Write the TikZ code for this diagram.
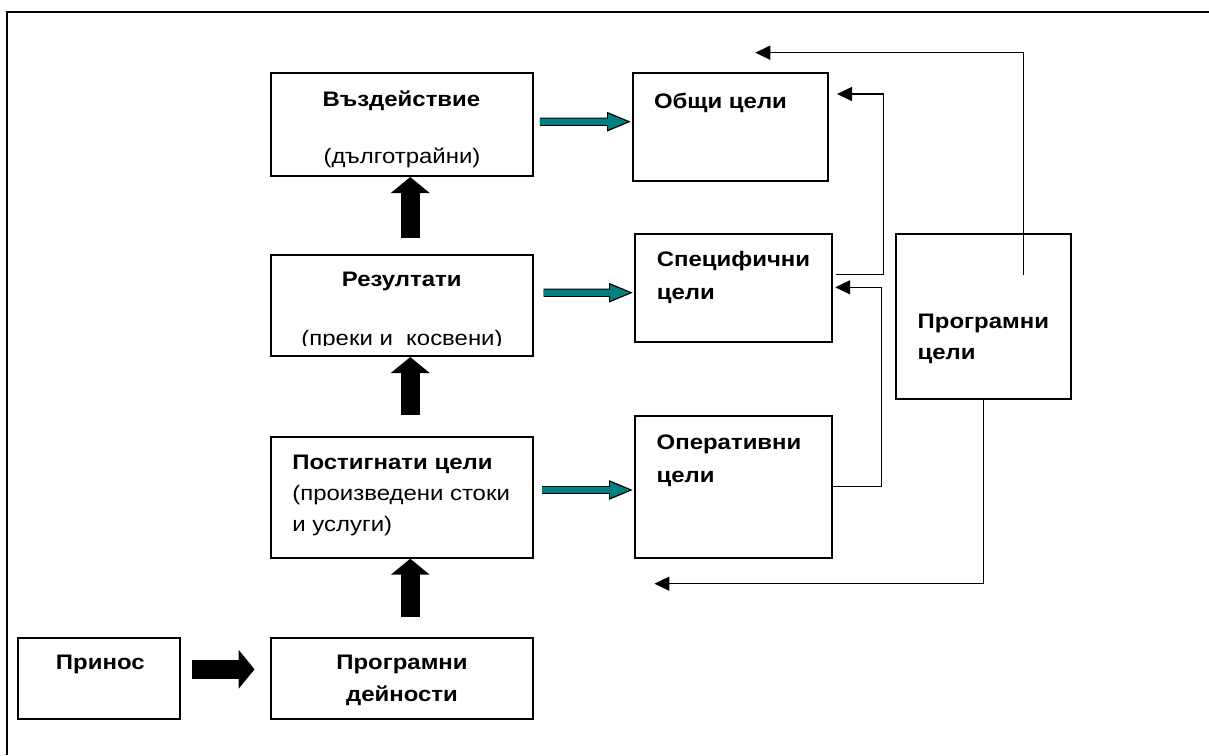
\documentclass[tikz,border=0pt]{standalone}
\usepackage{fontspec}
\setmainfont{Liberation Sans}[FakeStretch=1.14]
\usetikzlibrary{arrows.meta}
\definecolor{tealgoal}{RGB}{0,128,128}

\tikzset{
  box/.style 2 args={draw, line width=1pt, minimum width=#1*0.5pt, minimum height=#2*0.5pt, inner sep=0pt},
  ttl/.style={inner sep=0pt, anchor=base, font=\fontsize{10.5}{12}\selectfont\bfseries},
  ttlw/.style={ttl, anchor=base west},
  sub/.style={inner sep=0pt, anchor=base, font=\fontsize{10.5}{12}\selectfont},
  subw/.style={sub, anchor=base west},
  blockarrow/.style={line width=9.75pt, -{Triangle[length=8pt,width=19pt]}},
  tealarrow/.style={preaction={draw=black, line width=4.2pt, shorten >=0pt, -{Triangle[length=12.5pt,width=8.8pt]}},
    draw=tealgoal, line width=3.2pt, shorten >=1.6pt, -{Triangle[length=10.4pt,width=7pt]}},
  fb/.style={line width=0.75pt, -{Triangle[length=7.5pt,width=7pt]}}
}

\begin{document}
\begin{tikzpicture}[x=0.5pt, y=-0.5pt]
        \useasboundingbox (0,0) rectangle (1209,755);
        \draw[line width=1pt] (1209,12) -- (6.9,12) -- (6.9,755);

        % left column
        \node[box={262.5}{103.3}] (vozd) at (401.85,124.35) {};
        \node[box={262.5}{101}] (rez) at (401.85,305.5) {};
        \node[box={262.5}{121}] (post) at (401.85,497.2) {};
        \node[box={262.5}{81.6}] (progd) at (401.85,678.5) {};
        \node[box={162}{81.6}] (prinos) at (99.35,678.5) {};

        % right column
        \node[box={195.3}{108}] (obshti) at (730.65,127) {};
        \node[box={197.2}{108}] (spec) at (733.6,288.3) {};
        \node[box={197.2}{142}] (oper) at (733.6,486.7) {};
        \node[box={174.7}{165}] (progc) at (983.35,316.8) {};

        % texts
        \node[ttl] (vozdA) at (401.4,106) {Въздействие};
        \node[sub] (vozdB) at (402,163) {(дълготрайни)};
        \node[ttl] (rezA) at (401.8,286) {Резултати};
        \begin{scope}
          \clip (272,257) rectangle (532,345);
          \node[sub] (rezB) at (402,345) {(преки и\ \ косвени)};
        \end{scope}
        \node[ttlw] (postA) at (292,469.3) {Постигнати цели};
        \node[subw] (postB) at (292,500) {(произведени стоки};
        \node[subw] (postC) at (292,531.7) {и услуги)};
        \node[ttl] (progdA) at (402,669.3) {Програмни};
        \node[ttl] (progdB) at (402,701.7) {дейности};
        \node[ttl] (prinosA) at (100.3,669.3) {Принос};
        \node[ttlw] (obshtiA) at (653.6,108.3) {Общи цели};
        \node[ttlw] (specA) at (656.5,266.7) {Специфични};
        \node[ttlw] (specB) at (656.5,299) {цели};
        \node[ttlw] (operA) at (656.3,449) {Оперативни};
        \node[ttlw] (operB) at (656.3,482.7) {цели};
        \node[ttlw] (progcA) at (917.3,328.3) {Програмни};
        \node[ttlw] (progcB) at (917.3,359) {цели};

        % black arrows
        \draw[blockarrow] ([xshift=4.2pt,yshift=8pt]rez.north) -- ([xshift=4.2pt]vozd.south);
        \draw[blockarrow] ([xshift=4.2pt,yshift=10.35pt]post.north) -- ([xshift=4.2pt]rez.south);
        \draw[blockarrow] ([xshift=4.2pt,yshift=9.7pt]progd.north) -- ([xshift=4.2pt]post.south);
        \draw[blockarrow] ([xshift=5.5pt,yshift=4.6pt]prinos.east) -- ([xshift=-7.5pt,yshift=4.6pt]progd.west);

        % teal arrows
        \draw[tealarrow] ([xshift=2.85pt,yshift=1.3pt]vozd.east) -- ([yshift=2.65pt]obshti.west);
        \draw[tealarrow] ([xshift=4.8pt,yshift=6.4pt]rez.east) -- ([yshift=-2.2pt]spec.west);
        \draw[tealarrow] ([xshift=3.85pt,yshift=3.6pt]post.east) -- ([yshift=-1.65pt]oper.west);

        % feedback lines
        \coordinate (progtop) at (1023.3,275);
        \coordinate (aboveobshti) at (755.3,52.7);
        \coordinate (belowoper) at (654.4,583.7);
        \draw[fb] ([xshift=1.5pt,yshift=7pt]spec.east) -- ++(47.4,0) |- ([xshift=3.85pt,yshift=16.5pt]obshti.east);
        \draw[fb] (oper.east) -- ++(48.2,0) |- ([xshift=1pt,yshift=0.5pt]spec.east);
        \draw[fb] (progtop) |- (aboveobshti);
        \draw[fb] (progc.south) |- (belowoper);
    \end{tikzpicture}
\end{document}
